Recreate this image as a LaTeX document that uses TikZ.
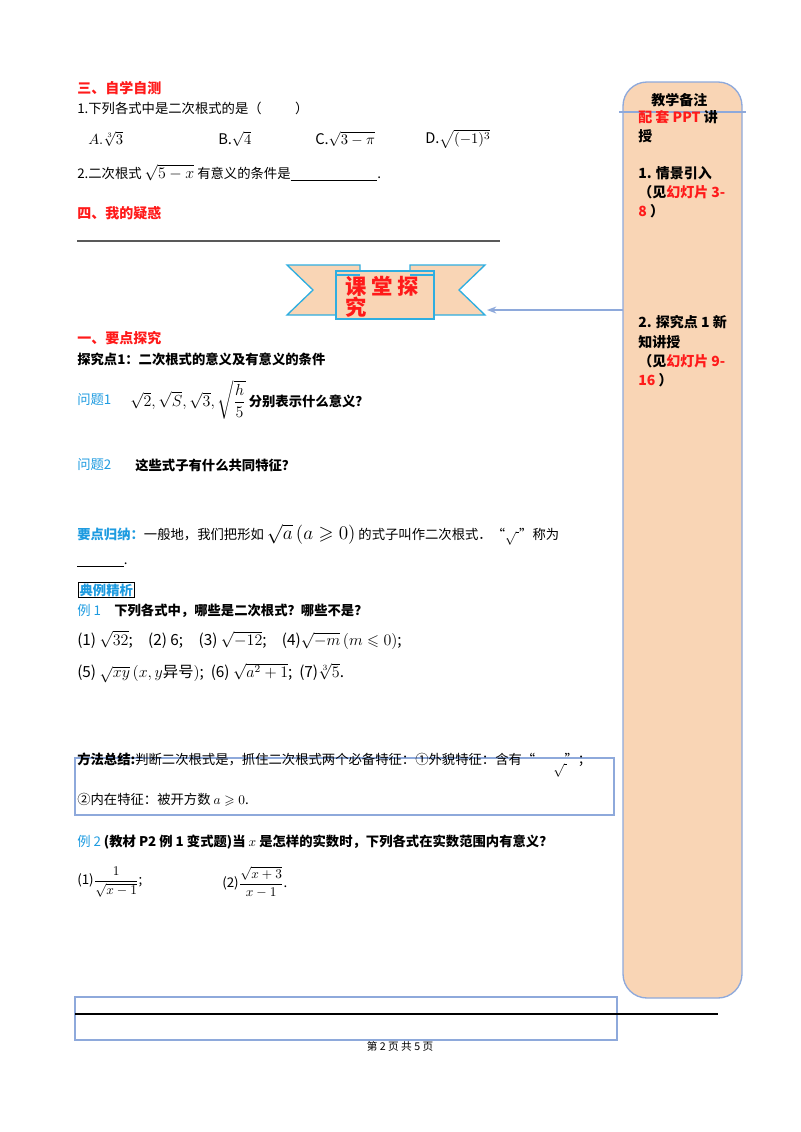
\documentclass[tikz,border=0pt]{standalone}
\usepackage{fontspec}
\usepackage{amsmath,amssymb}
\newfontfamily\cjk{Noto Sans CJK SC}
\usetikzlibrary{arrows.meta}
\definecolor{peach}{HTML}{F9D5B5}
\definecolor{edgeblue}{HTML}{8EA9DB}
\definecolor{cyanb}{HTML}{2FAEE0}
\definecolor{titleblue}{HTML}{1E9BE0}
\definecolor{red1}{HTML}{FF1A1A}
\begin{document}
\begin{tikzpicture}[x=0.75pt,y=-0.75pt,
  txt/.style={anchor=west,inner sep=0pt,font=\cjk\fontsize{10}{12}\selectfont},
  redh/.style={txt,font=\cjk\bfseries\fontsize{10.5}{12}\selectfont,text=red1},
  side/.style={anchor=west,inner sep=0pt,font=\cjk\bfseries\fontsize{10.5}{13}\selectfont},
  bl/.style={text=titleblue}]
\useasboundingbox (0,0) rectangle (800,1132);
% sidebar
\draw[edgeblue,fill=peach,line width=1pt,rounded corners=18] (623,82) rectangle (742,998);
\draw[edgeblue,line width=1pt] (619,112) -- (746,112);
\node[side] (s0) at (651,100) {教学备注};
\node[side] (s1) at (638,117) {\textcolor{red1}{配 套 PPT} 讲};
\node[side] (s2) at (638,136) {授};
\node[side] (s3) at (638,173) {1. 情景引入};
\node[side] (s4) at (638,192) {（见\textcolor{red1}{幻灯片 3-}};
\node[side] (s5) at (638,211) {\textcolor{red1}{8} ）};
\node[side] (s6) at (638,322) {2. 探究点 1 新};
\node[side] (s7) at (638,342) {知讲授};
\node[side] (s8) at (638,361) {（见\textcolor{red1}{幻灯片 9-}};
\node[side] (s9) at (638,380) {\textcolor{red1}{16} ）};
% banner
\draw[cyanb,fill=peach,line width=1pt] (287,265) -- (360,265) -- (360,315) -- (287,315) -- (313,290) -- cycle;
\draw[cyanb,fill=peach,line width=1pt] (485,265) -- (410,265) -- (410,315) -- (485,315) -- (459,290) -- cycle;
\draw[cyanb,fill=peach,line width=1pt] (336,271) -- (434,271) -- (434,319) -- (336,319) -- cycle;
\draw[cyanb,line width=0.8pt] (336,275) -- (360,275) (410,275)--(434,275);
\node[anchor=north west,inner sep=0pt,align=left,text=red1,font=\cjk\bfseries\fontsize{16}{16}\selectfont] (ban) at (345,276) {课 堂 探\\究};
\coordinate (banR) at (487,310);
\coordinate (sideL) at (623,310);
\draw[edgeblue,line width=1pt,-{Stealth[length=7pt]}] (sideL) -- (banR);
% section 3
\node[redh] (h3) at (77,88) {三、自学自测};
\node[txt] (q1) at (77,108) {1.下列各式中是二次根式的是（\hspace{2.5em}）};
\node[txt,font=\cjk\fontsize{11}{12}\selectfont] (oa) at (88,139) {$A.\sqrt[3]{3}$};
\node[txt,font=\cjk\fontsize{11}{12}\selectfont] (ob) at (218,139) {B.$\sqrt{4}$};
\node[txt,font=\cjk\fontsize{11}{12}\selectfont] (oc) at (315,139) {C.$\sqrt{3-\pi}$};
\node[txt,font=\cjk\fontsize{11}{12}\selectfont] (od) at (425,139) {D.$\sqrt{(-1)^3}$};
\node[txt] (q2) at (77,173) {2.二次根式 {\large$\sqrt{5-x}$} 有意义的条件是\underline{\hspace{6.5em}}.};
\node[redh] (h4) at (77,213) {四、我的疑惑};
\draw[gray!70!black,line width=0.8pt] (77,241) -- (500,241);
% section 1
\node[redh] (h1) at (77,338) {一、要点探究};
\node[txt,font=\cjk\bfseries\fontsize{10}{12}\selectfont] (p1) at (77,359) {探究点1：二次根式的意义及有意义的条件};
\node[txt,bl] (w1) at (77,400) {问题1};
\node[txt] (w1m) at (130,400) {{\large$\sqrt2,\sqrt S,\sqrt3,\sqrt{\dfrac h5}$} \textbf{分别表示什么意义？}};
\node[txt,bl] (w2) at (77,465) {问题2};
\node[txt] (w2m) at (135,465) {\textbf{这些式子有什么共同特征？}};
\node[txt] (yd) at (77,535) {\textcolor{titleblue}{\textbf{要点归纳：}}一般地，我们把形如 {\Large$\sqrt{a}\,(a\geqslant0)$} 的式子叫作二次根式．“$\sqrt{\ }$”称为};
\node[txt] (blank) at (77,565) {\underline{\hspace{3.5em}}.};
\node[txt,draw=black,inner sep=1pt,text=titleblue] (dl) at (78,590) {\textbf{典例精析}};
\node[txt] (e1) at (77,611) {\textcolor{titleblue}{例 1}\quad\textbf{下列各式中，哪些是二次根式？哪些不是？}};
\node[txt,font=\cjk\fontsize{11.5}{13}\selectfont] (e1a) at (77,640) {(1) $\sqrt{32}$;\quad (2) 6;\quad (3) $\sqrt{-12}$;\quad (4)$\sqrt{-m}\,(m\leqslant0)$;};
\node[txt,font=\cjk\fontsize{11.5}{13}\selectfont] (e1b) at (77,673) {(5) $\sqrt{xy}\,(x,y$异号$)$;\ \ (6) $\sqrt{a^2+1}$;\ \ (7)$\sqrt[3]{5}$.};
\draw[edgeblue,line width=1pt] (75,758) rectangle (614,815);
\node[txt] (ff) at (77,760) {\textbf{方法总结:}判断二次根式是，抓住二次根式两个必备特征：①外貌特征：含有“\hspace{2.2em}”；};
\node[txt] (rad) at (553,770) {$\sqrt{\ }$};
\node[txt] (ff2) at (77,800) {②内在特征：被开方数 $a\geqslant0$.};
\node[txt] (e2) at (77,842) {\textcolor{titleblue}{例 2} \textbf{(教材 P2 例 1 变式题)当 $x$ 是怎样的实数时，下列各式在实数范围内有意义？}};
\node[txt] (e2a) at (77,882) {(1)$\dfrac{1}{\sqrt{x-1}}$;};
\node[txt] (e2b) at (222,882) {(2)$\dfrac{\sqrt{x+3}}{x-1}$.};
% bottom
\draw[edgeblue,line width=1pt] (75,997) rectangle (617,1040);
\draw[black,line width=0.8pt] (75,1014) -- (718,1014);
\node[inner sep=0pt,font=\cjk\fontsize{8}{10}\selectfont] (ft) at (400,1046) {第 2 页 共 5 页};
\end{tikzpicture}
\end{document}
